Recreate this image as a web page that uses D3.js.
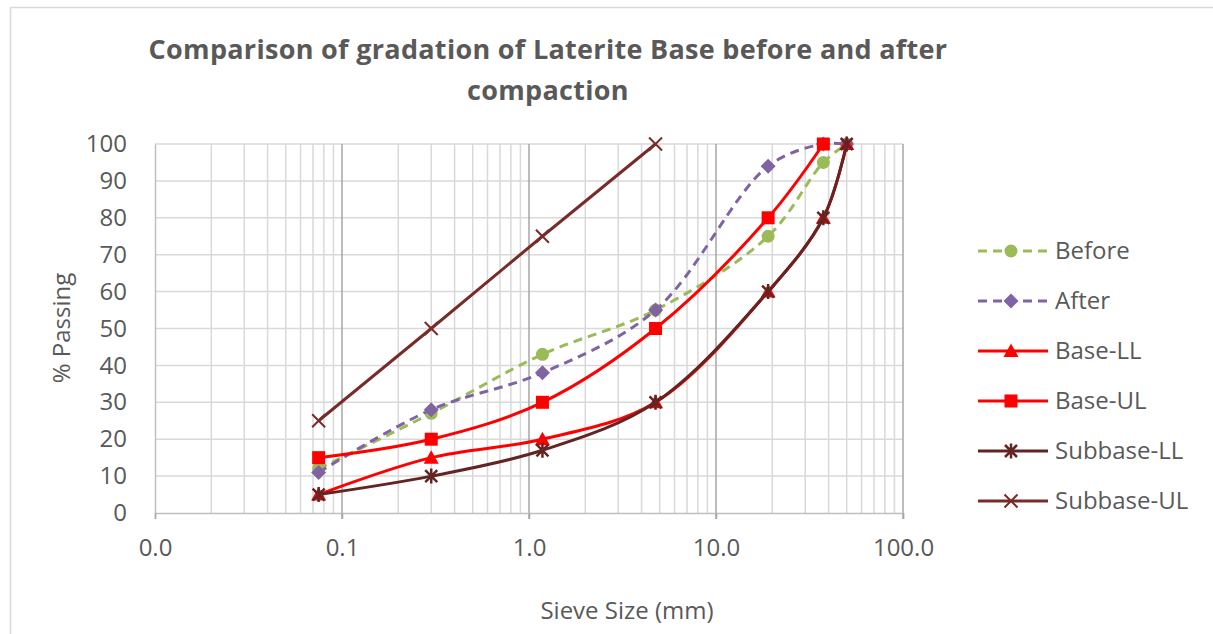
<!DOCTYPE html>
<html>
<head>
<meta charset="utf-8">
<script src="https://cdn.jsdelivr.net/npm/d3@7"></script>
<style>
  body { margin: 0; background: #fff; }
  svg text { font-family: "Open Sans", "DejaVu Sans", sans-serif; fill: #595959; }
</style>
</head>
<body>
<div id="chart"></div>
<script>
// Gradation data (sieve size in mm, % passing)
const sieves = [0.075, 0.3, 1.18, 4.75, 19, 37.5, 50]
const before = [12, 27, 43, 55, 75, 95, 100]
const after = [11, 28, 38, 55, 94, 100, 100]
const baseLL = [5, 15, 20, 30, 60, 80, 100]
const baseUL = [15, 20, 30, 50, 80, 100]
const subbaseLL = [5, 10, 17, 30, 60, 80, 100]
const subbaseUL = [25, 50, 75, 100]

const xTicks = [0.01, 0.1, 1, 10, 100]
const yTicks = [0, 10, 20, 30, 40, 50, 60, 70, 80, 90, 100]

const series = [
  { name: 'Before', values: before, color: '#9BBB59', dash: '9,6', marker: 'circle', smooth: true },
  { name: 'After', values: after, color: '#8064A2', dash: '9,6', marker: 'diamond', smooth: true },
  { name: 'Base-LL', values: baseLL, color: '#FF0000', dash: null, marker: 'triangle', smooth: true },
  { name: 'Base-UL', values: baseUL, color: '#FF0000', dash: null, marker: 'square', smooth: true },
  { name: 'Subbase-LL', values: subbaseLL, color: '#632523', dash: null, marker: 'star', smooth: true },
  { name: 'Subbase-UL', values: subbaseUL, color: '#772C2A', dash: null, marker: 'cross', smooth: false }
]

const width = 1213
const height = 634
const plot = { left: 155, right: 903, top: 144, bottom: 513 }

const svg = d3.select('#chart')
  .append('svg')
  .attr('width', width)
  .attr('height', height)

// outer chart frame (runs off the page to the right and bottom)
svg.append('rect')
  .attr('x', 10.5).attr('y', 7.5)
  .attr('width', 1300).attr('height', 700)
  .attr('fill', '#fff')
  .attr('stroke', '#d9d9d9')
  .attr('stroke-width', 1.5)

const x = d3.scaleLog().domain([0.01, 100]).range([plot.left, plot.right])
const y = d3.scaleLinear().domain([0, 100]).range([plot.bottom, plot.top])

// Title
svg.append('text')
  .attr('text-anchor', 'middle')
  .style('font-weight', 'bold')
  .style('font-size', '27px')
  .style('letter-spacing', '0.3px')
  .selectAll('tspan')
  .data(['Comparison of gradation of Laterite Base before and after', 'compaction'])
  .enter().append('tspan')
  .attr('x', 548)
  .attr('y', (d, i) => 59 + i * 41)
  .text(d => d)

// minor vertical gridlines
const minor = []
xTicks.slice(0, -1).forEach(d => { for (let k = 2; k <= 9; k++) minor.push(d * k) })
svg.append('g').selectAll('line')
  .data(minor)
  .enter().append('line')
  .attr('x1', d => x(d)).attr('x2', d => x(d))
  .attr('y1', plot.top).attr('y2', plot.bottom)
  .attr('stroke', '#d9d9d9').attr('stroke-width', 1.5)

// horizontal gridlines
svg.append('g').selectAll('line')
  .data(yTicks.slice(1))
  .enter().append('line')
  .attr('x1', plot.left).attr('x2', plot.right)
  .attr('y1', d => y(d)).attr('y2', d => y(d))
  .attr('stroke', '#d9d9d9').attr('stroke-width', 1.5)

// major vertical gridlines
svg.append('g').selectAll('line')
  .data(xTicks.slice(1))
  .enter().append('line')
  .attr('x1', d => x(d)).attr('x2', d => x(d))
  .attr('y1', plot.top).attr('y2', plot.bottom + 6)
  .attr('stroke', '#a6a6a6').attr('stroke-width', 1.5)

// axes
const xAxis = svg.append('g')
  .attr('transform', `translate(0,${plot.bottom})`)
  .call(d3.axisBottom(x).tickValues(xTicks).tickFormat(d3.format('.1f')).tickSize(6).tickPadding(20))
xAxis.select('.domain').attr('stroke', '#bfbfbf').attr('stroke-width', 1.5)
xAxis.selectAll('.tick line').attr('stroke', '#a6a6a6').attr('stroke-width', 1.5)
xAxis.selectAll('text').style('font-size', '24px').attr('fill', '#595959')

const yAxis = svg.append('g')
  .attr('transform', `translate(${plot.left},0)`)
  .call(d3.axisLeft(y).tickValues(yTicks).tickSize(0).tickPadding(28))
yAxis.select('.domain').attr('stroke', '#bfbfbf').attr('stroke-width', 1.5)
yAxis.selectAll('text').style('font-size', '24px').attr('fill', '#595959')

// axis titles
svg.append('text')
  .attr('transform', 'translate(70,328) rotate(-90)')
  .attr('text-anchor', 'middle')
  .style('font-size', '24px')
  .text('% Passing')

svg.append('text')
  .attr('x', 627).attr('y', 619)
  .attr('text-anchor', 'middle')
  .style('font-size', '24px')
  .text('Sieve Size (mm)')

// markers
function drawMarker(g, type, color) {
  if (type === 'circle') {
    g.append('circle').attr('r', 6.5).attr('fill', color)
  } else if (type === 'diamond') {
    g.append('path').attr('d', 'M0,-7.5L7.5,0L0,7.5L-7.5,0Z').attr('fill', color)
  } else if (type === 'triangle') {
    g.append('path').attr('d', 'M0,-7.5L7.5,6L-7.5,6Z').attr('fill', color)
  } else if (type === 'square') {
    g.append('rect').attr('x', -6.5).attr('y', -6.5).attr('width', 13).attr('height', 13).attr('fill', color)
  } else if (type === 'star') {
    g.append('path').attr('d', 'M-6,-6L6,6M-6,6L6,-6M0,-7.5L0,7.5')
      .attr('stroke', color).attr('stroke-width', 2.5)
  } else if (type === 'cross') {
    g.append('path').attr('d', 'M-6.5,-6.5L6.5,6.5M-6.5,6.5L6.5,-6.5')
      .attr('stroke', color).attr('stroke-width', 2)
  }
}

// series lines
series.forEach(s => {
  const pts = s.values.map((v, i) => [sieves[i], v])
  const line = d3.line()
    .x(d => x(d[0]))
    .y(d => y(d[1]))
    .curve(s.smooth ? d3.curveCatmullRom.alpha(0.5) : d3.curveLinear)

  svg.append('path')
    .datum(pts)
    .attr('fill', 'none')
    .attr('stroke', s.color)
    .attr('stroke-width', 3)
    .attr('stroke-dasharray', s.dash)
    .attr('d', line)

  svg.append('g').selectAll('g')
    .data(pts)
    .enter().append('g')
    .attr('transform', d => `translate(${x(d[0])},${y(d[1])})`)
    .each(function () { drawMarker(d3.select(this), s.marker, s.color) })
})

// legend
const legend = svg.append('g')
  .selectAll('g')
  .data(series)
  .enter().append('g')
  .attr('transform', (d, i) => `translate(978,${251 + i * 50})`)

legend.append('line')
  .attr('x1', 0).attr('x2', 70)
  .attr('stroke', d => d.color)
  .attr('stroke-width', 3)
  .attr('stroke-dasharray', d => d.dash)

legend.append('g')
  .attr('transform', 'translate(33,0)')
  .each(function (d) { drawMarker(d3.select(this), d.marker, d.color) })

legend.append('text')
  .attr('x', 77)
  .attr('dy', '0.35em')
  .style('font-size', '24px')
  .text(d => d.name)
</script>
</body>
</html>
